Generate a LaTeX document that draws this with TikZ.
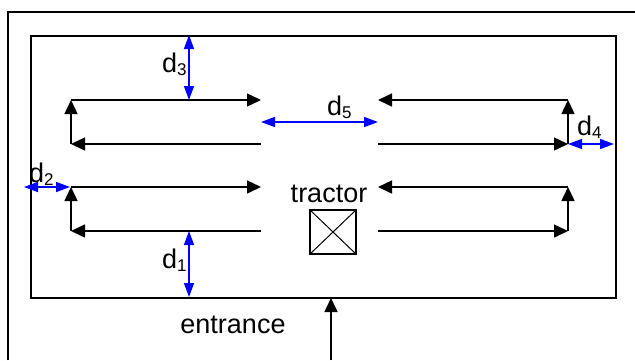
\documentclass[tikz,border=0pt]{standalone}
\usepackage{fontspec}
\setmainfont{Liberation Sans}
\usetikzlibrary{arrows.meta}
\newcommand{\dlab}[1]{d\raisebox{-3.5pt}{\fontsize{17}{17}\selectfont #1}}
\begin{document}
\begin{tikzpicture}[x=1pt,y=-1pt,
  frame/.style={line width=2pt,black},
  lane/.style={line width=1.5pt,black,-{Triangle[length=14pt,width=13pt]}},
  plain/.style={line width=1.5pt,black},
  meas/.style={line width=1.5pt,blue,{Triangle[length=14pt,width=10pt]}-{Triangle[length=14pt,width=10pt]}},
  lbl/.style={inner sep=0pt,font=\fontsize{27}{30}\selectfont},
]
\useasboundingbox (0,0) rectangle (635,360);
% outer frame (clipped)
\coordinate (oBL) at (8,360);
\coordinate (oTL) at (8,12);
\coordinate (oTR) at (635,12);
\draw[frame] (oBL) -- (oTL) -- (oTR);
% inner field
\node[frame,draw,minimum width=585pt,minimum height=262pt,inner sep=0pt,anchor=north west] (field) at (30,35) {};
% upper left lane
\coordinate (ul1) at (71,100);
\coordinate (ul2) at (261,100);
\coordinate (ul3) at (261,144);
\coordinate (ul4) at (71,144);
\draw[lane] (ul1) -- (ul2);
\draw[lane] (ul3) -- (ul4);
\draw[lane] (ul4) -- (ul1);
% upper right lane
\coordinate (ur1) at (568,100);
\coordinate (ur2) at (378,100);
\coordinate (ur3) at (378,144);
\coordinate (ur4) at (568,144);
\draw[lane] (ur1) -- (ur2);
\draw[lane] (ur3) -- (ur4);
\draw[lane] (ur4) -- (ur1);
% lower left lane
\coordinate (ll1) at (71,187);
\coordinate (ll2) at (261,187);
\coordinate (ll3) at (261,231);
\coordinate (ll4) at (71,231);
\draw[lane] (ll1) -- (ll2);
\draw[lane] (ll3) -- (ll4);
\draw[lane] (ll4) -- (ll1);
% lower right lane
\coordinate (lr1) at (568,187);
\coordinate (lr2) at (378,187);
\coordinate (lr3) at (378,231);
\coordinate (lr4) at (568,231);
\draw[lane] (lr1) -- (lr2);
\draw[lane] (lr3) -- (lr4);
\draw[lane] (lr4) -- (lr1);
% tractor
\node[draw,line width=1.5pt,minimum width=46pt,minimum height=44pt,inner sep=0pt] (tractor) at (333,232) {};
\draw[line width=1pt] (tractor.north west) -- (tractor.south east);
\draw[line width=1pt] (tractor.south west) -- (tractor.north east);
\node[lbl,anchor=base] (tractorlbl) at (329,202) {tractor};
% measurements
\coordinate (d3a) at (189,35);
\coordinate (d3b) at (189,100);
\draw[meas] (d3a) -- (d3b);
\node[lbl,anchor=base west] (d3) at (162,72) {\dlab{3}};
\coordinate (d1a) at (189,231);
\coordinate (d1b) at (189,297);
\draw[meas] (d1a) -- (d1b);
\node[lbl,anchor=base west] (d1) at (162,268) {\dlab{1}};
\coordinate (d5a) at (261,122);
\coordinate (d5b) at (378,122);
\draw[meas] (d5a) -- (d5b);
\node[lbl,anchor=base west] (d5) at (327,115) {\dlab{5}};
\coordinate (d4a) at (568,144);
\coordinate (d4b) at (614,144);
\draw[meas] (d4a) -- (d4b);
\node[lbl,anchor=base west] (d4) at (577,135) {\dlab{4}};
\coordinate (d2a) at (24,187);
\coordinate (d2b) at (70,187);
\draw[meas] (d2a) -- (d2b);
\node[lbl,anchor=base west] (d2) at (29,182) {\dlab{2}};
% entrance
\node[lbl,anchor=base] (entrance) at (233,333) {entrance};
\coordinate (entA) at (331,360);
\coordinate (entB) at (331,298);
\draw[lane] (entA) -- (entB);
\end{tikzpicture}
\end{document}
